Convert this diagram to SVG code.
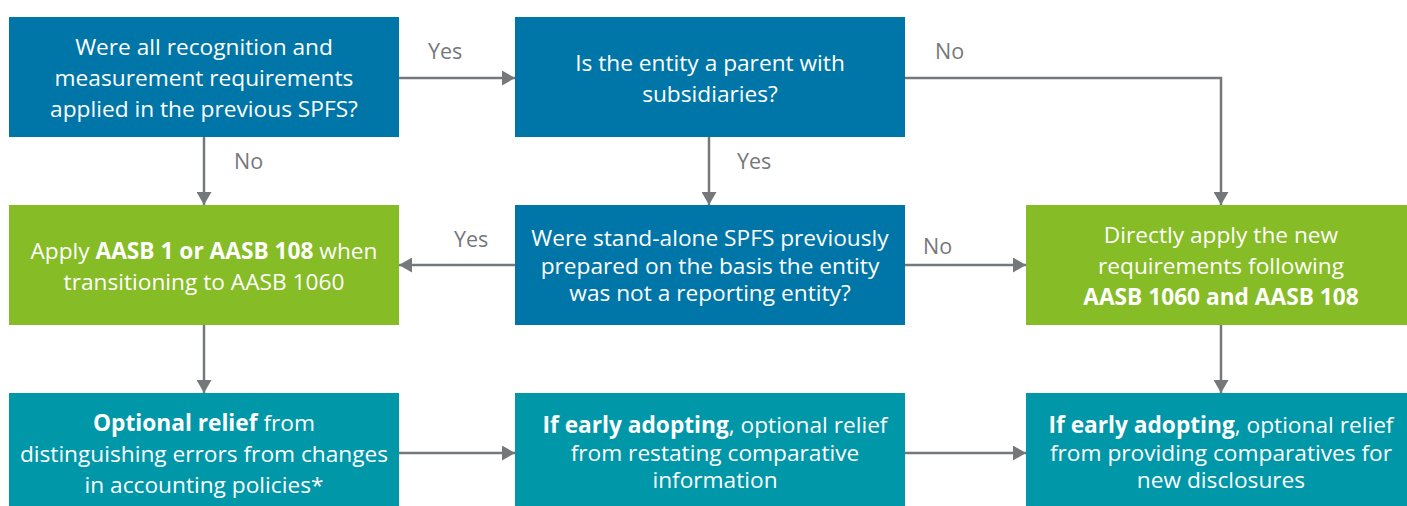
<svg xmlns="http://www.w3.org/2000/svg" width="1407" height="506" viewBox="0 0 1407 506">
<defs>
<marker id="ah" viewBox="0 0 13 15" refX="13" refY="7.5" markerWidth="13" markerHeight="15" markerUnits="userSpaceOnUse" orient="auto">
<path d="M0,0 L13,7.5 L0,15 Z" fill="#75787b"/>
</marker>
<style>
.blue{fill:#0076a8}
.green{fill:#86bc25}
.teal{fill:#0097a9}
.t{font-family:"Open Sans","Liberation Sans",sans-serif;font-size:22.7px;fill:#ffffff;text-anchor:middle}
.b{font-weight:bold}
.lbl{font-family:"Open Sans","Liberation Sans",sans-serif;font-size:21.5px;fill:#75787b}
.c{fill:none;stroke:#75787b;stroke-width:2.5;marker-end:url(#ah)}
</style>
</defs>
<rect width="1407" height="506" fill="#ffffff"/>
<g id="connectors">
<path class="c" d="M399,78 H515"/>
<path class="c" d="M904,78 H1221 V205"/>
<path class="c" d="M204,137 V205"/>
<path class="c" d="M709,137 V205"/>
<path class="c" d="M515,265 H399"/>
<path class="c" d="M904,265 H1026"/>
<path class="c" d="M204,325 V393"/>
<path class="c" d="M1221,325 V393"/>
<path class="c" d="M399,453 H515"/>
<path class="c" d="M904,453 H1026"/>
<text class="lbl" x="428" y="59">Yes</text>
<text class="lbl" x="935" y="59">No</text>
<text class="lbl" x="234" y="169">No</text>
<text class="lbl" x="737" y="169">Yes</text>
<text class="lbl" x="454" y="247">Yes</text>
<text class="lbl" x="923" y="254">No</text>
</g>
<g id="q1">
<rect class="blue" x="9" y="17" width="390" height="120"/>
<text class="t" x="204" y="55">Were all recognition and</text>
<text class="t" x="204" y="86">measurement requirements</text>
<text class="t" x="204" y="117">applied in the previous SPFS?</text>
</g>
<g id="q2">
<rect class="blue" x="515" y="17" width="390" height="120"/>
<text class="t" x="710" y="71">Is the entity a parent with</text>
<text class="t" x="710" y="102">subsidiaries?</text>
</g>
<g id="a1">
<rect class="green" x="9" y="205" width="390" height="120"/>
<text class="t" x="204" y="259">Apply <tspan class="b">AASB 1 or AASB 108</tspan> when</text>
<text class="t" x="204" y="290">transitioning to AASB 1060</text>
</g>
<g id="q3">
<rect class="blue" x="515" y="205" width="390" height="120"/>
<text class="t" x="710" y="246">Were stand-alone SPFS previously</text>
<text class="t" x="710" y="274">prepared on the basis the entity</text>
<text class="t" x="710" y="301">was not a reporting entity?</text>
</g>
<g id="a2">
<rect class="green" x="1026" y="205" width="390" height="120"/>
<text class="t" x="1221" y="243">Directly apply the new</text>
<text class="t" x="1221" y="274">requirements following</text>
<text class="t b" x="1221" y="305">AASB 1060 and AASB 108</text>
</g>
<g id="r1">
<rect class="teal" x="9" y="393" width="390" height="120"/>
<text class="t" x="204" y="431"><tspan class="b">Optional relief</tspan> from</text>
<text class="t" x="204" y="462">distinguishing errors from changes</text>
<text class="t" x="204" y="493">in accounting policies*</text>
</g>
<g id="r2">
<rect class="teal" x="515" y="393" width="390" height="120"/>
<text class="t" x="715" y="433"><tspan class="b">If early adopting</tspan>, optional relief</text>
<text class="t" x="715" y="461">from restating comparative</text>
<text class="t" x="715" y="488">information</text>
</g>
<g id="r3">
<rect class="teal" x="1026" y="393" width="390" height="120"/>
<text class="t" x="1221" y="433"><tspan class="b">If early adopting</tspan>, optional relief</text>
<text class="t" x="1221" y="461">from providing comparatives for</text>
<text class="t" x="1221" y="488">new disclosures</text>
</g>
</svg>
